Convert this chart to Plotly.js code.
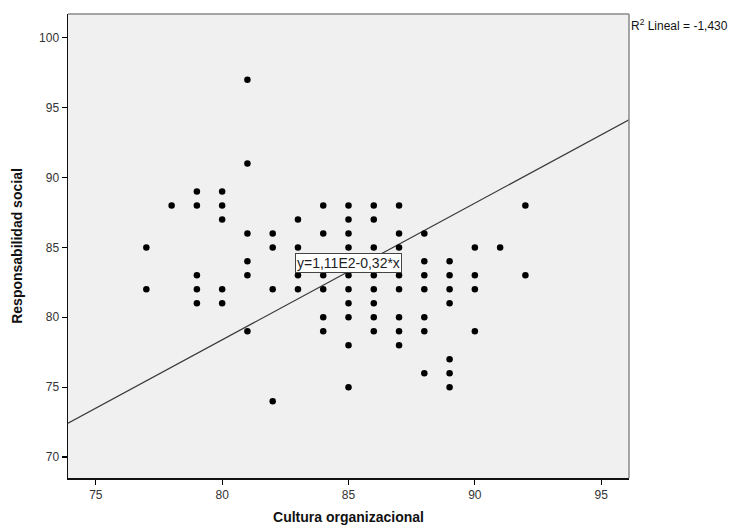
<!DOCTYPE html>
<html>
<head>
<meta charset="utf-8">
<script src="https://cdn.plot.ly/plotly-3.0.1.min.js"></script>
<style>html,body{margin:0;padding:0;background:#fff;}#chart{width:734px;height:528px;}</style>
</head>
<body>
<div id="chart"></div>
<script>
// Data
const cultura = [
  77,77,
  78,
  79,79,79,79,79,
  80,80,80,80,80,
  81,81,81,81,81,81,
  82,82,82,82,
  83,83,83,83,
  84,84,84,84,84,84,
  85,85,85,85,85,85,85,85,85,85,
  86,86,86,86,86,86,86,86,
  87,87,87,87,87,87,87,87,
  88,88,88,88,88,88,88,
  89,89,89,89,89,89,89,
  90,90,90,90,
  91,
  92,92
];
const responsabilidad = [
  85,82,
  88,
  89,88,83,82,81,
  89,88,87,82,81,
  97,91,86,84,83,79,
  86,85,82,74,
  87,85,83,82,
  88,86,83,82,80,79,
  88,87,86,85,83,82,81,80,78,75,
  88,87,85,83,82,81,80,79,
  88,86,85,83,82,80,79,78,
  86,84,83,82,80,79,76,
  84,83,82,81,77,76,75,
  85,83,82,79,
  85,
  88,83
];
// Fit line as drawn (end points)
const lineX = [73.9, 96.1];
const lineY = [72.42, 94.13];
const xTicks = [75, 80, 85, 90, 95];
const yTicks = [70, 75, 80, 85, 90, 95, 100];
const equationText = "y=1,11E2-0,32*x";
const r2Text = "R<sup>2</sup> Lineal = -1,430";
const xTitle = "Cultura organizacional";
const yTitle = "Responsabilidad social";

const traces = [
  {x: lineX, y: lineY, mode: 'lines', type: 'scatter',
   line: {color: '#3a3a3a', width: 1.2}, hoverinfo: 'skip'},
  {x: cultura, y: responsabilidad, mode: 'markers', type: 'scatter',
   marker: {color: '#000', size: 6.5}}
];

const fam = 'Arial, "Liberation Sans", sans-serif';
const axisFont = {family: fam, size: 12, color: '#333'};
const layout = {
  width: 734, height: 528,
  margin: {l: 68, r: 105, t: 14, b: 50},
  paper_bgcolor: '#fff',
  plot_bgcolor: '#f0f0f0',
  showlegend: false,
  xaxis: {
    range: [73.9, 96.1], tickvals: xTicks, ticktext: xTicks.map(String),
    ticks: 'outside', ticklen: 5, tickcolor: '#000', tickwidth: 1.2,
    showgrid: false, zeroline: false, showline: true, linecolor: '#111', linewidth: 1.5,
    tickfont: axisFont,
    title: {text: xTitle, standoff: 11,
      font: {family: fam, size: 14, color: '#111', weight: 'bold'}}
  },
  yaxis: {
    range: [68.5, 101.7], tickvals: yTicks, ticktext: yTicks.map(String),
    ticks: 'outside', ticklen: 5, tickcolor: '#000', tickwidth: 1.2,
    showgrid: false, zeroline: false, showline: true, linecolor: '#111', linewidth: 1.5,
    tickfont: axisFont,
    title: {text: yTitle, standoff: 13,
      font: {family: fam, size: 14, color: '#111', weight: 'bold'}}
  },
  shapes: [
    {type: 'line', xref: 'paper', yref: 'paper', x0: 0, x1: 1, y0: 1, y1: 1,
     line: {color: '#888', width: 1.5}},
    {type: 'line', xref: 'paper', yref: 'paper', x0: 1, x1: 1, y0: 0, y1: 1,
     line: {color: '#888', width: 1.5}}
  ],
  annotations: [
    {x: 85, y: 83.9, xref: 'x', yref: 'y', text: equationText, showarrow: false,
     bgcolor: '#fff', bordercolor: '#444', borderwidth: 1, borderpad: 1,
     font: {family: fam, size: 14, color: '#222'}},
    {x: 1, y: 1, xref: 'paper', yref: 'paper', xanchor: 'left', yanchor: 'top',
     xshift: 0, yshift: -1, text: r2Text, showarrow: false,
     font: {family: fam, size: 12, color: '#111'}}
  ]
};

Plotly.newPlot('chart', traces, layout, {displayModeBar: false, staticPlot: true});
</script>
</body>
</html>
